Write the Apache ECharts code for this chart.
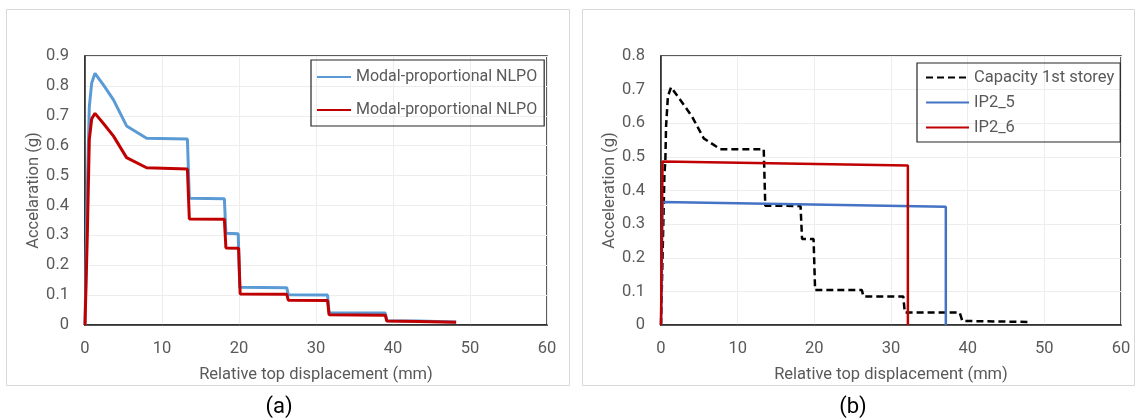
<!DOCTYPE html>
<html>
<head>
<meta charset="utf-8">
<script src="https://cdn.jsdelivr.net/npm/echarts@6/dist/echarts.min.js"></script>
<style>
html,body{margin:0;padding:0;background:#fff;}
#c{width:1138px;height:419px;}
</style>
</head>
<body>
<div id="c"></div>
<script>
// ---- Panel (a) data ----
const aBlueX = [0, 0.35, 0.56, 0.87, 1.3, 2.5, 3.7, 5.4, 8.0, 13.3, 13.55, 18.1, 18.3, 19.9, 20.1, 26.2, 26.4, 31.5, 31.7, 39.0, 39.2, 43.3, 43.5, 48.2];
const aBlueY = [0, 0.51, 0.73, 0.81, 0.842, 0.799, 0.753, 0.666, 0.625, 0.622, 0.424, 0.422, 0.307, 0.305, 0.126, 0.125, 0.101, 0.100, 0.041, 0.040, 0.014, 0.013, 0.010, 0.010];
const aRedX = [0, 0.3, 0.56, 0.87, 1.3, 2.5, 3.7, 5.4, 8.0, 13.3, 13.55, 18.1, 18.3, 19.95, 20.15, 26.2, 26.4, 31.5, 31.7, 39.0, 39.2, 43.3, 43.5, 48.2];
const aRedY = [0, 0.3, 0.62, 0.69, 0.708, 0.671, 0.632, 0.56, 0.526, 0.522, 0.355, 0.354, 0.258, 0.257, 0.104, 0.103, 0.083, 0.082, 0.034, 0.033, 0.013, 0.012, 0.009, 0.009];
const aNames = ['Modal-proportional NLPO', 'Modal-proportional NLPO '];

// ---- Panel (b) data ----
const capX = [0, 0.45, 0.57, 0.66, 0.9, 1.31, 2.5, 4.05, 5.57, 7.74, 13.4, 13.6, 18.2, 18.4, 19.9, 20.1, 26.2, 26.4, 31.6, 31.8, 38.96, 39.3, 48.2];
const capY = [0, 0.45, 0.49, 0.59, 0.68, 0.707, 0.67, 0.62, 0.555, 0.523, 0.523, 0.355, 0.354, 0.256, 0.256, 0.104, 0.104, 0.085, 0.085, 0.037, 0.037, 0.012, 0.009];
const ip25X = [0, 0.2, 37.15, 37.15];
const ip25Y = [0, 0.366, 0.352, 0];
const ip26X = [0, 0.2, 32.2, 32.2];
const ip26Y = [0, 0.486, 0.474, 0];
const bNames = ['Capacity 1st storey', 'IP2_5', 'IP2_6'];

// ---- Axis labels ----
const xTitle = 'Relative top displacement (mm)';
const yTitleA = 'Accelaration (g)';
const yTitleB = 'Acceleration (g)';
const panelLabels = ['(a)', '(b)'];

const zip = (xs, ys) => xs.map((x, i) => [x, ys[i]]);
const FONT = 'Roboto';
const TXT = '#595959';
const FS = 16.5;

const chart = echarts.init(document.getElementById('c'), null, {renderer: 'canvas'});

function xAxisCfg(gi) {
  return {
    type: 'value', gridIndex: gi, min: 0, max: 60, interval: 10,
    name: xTitle, nameLocation: 'middle', nameGap: 41,
    nameTextStyle: {color: TXT, fontSize: FS, fontFamily: FONT},
    axisLine: {show: true, lineStyle: {color: '#262626', width: 1.5}},
    axisTick: {show: false},
    axisLabel: {color: TXT, fontSize: FS, fontFamily: FONT, margin: 15},
    splitLine: {show: true, lineStyle: {color: '#ededed', width: 1}}
  };
}
function yAxisCfg(gi, max, name) {
  return {
    type: 'value', gridIndex: gi, min: 0, max: max, interval: 0.1,
    name: name, nameLocation: 'middle', nameGap: 42,
    nameTextStyle: {color: TXT, fontSize: FS, fontFamily: FONT},
    axisLine: {show: true, lineStyle: {color: '#262626', width: 1.5}},
    axisTick: {show: false},
    axisLabel: {color: TXT, fontSize: FS, fontFamily: FONT, margin: 16,
      formatter: v => (Math.round(v * 10) / 10).toString()},
    splitLine: {show: true, lineStyle: {color: '#ededed', width: 1}}
  };
}

const option = {
  backgroundColor: '#fff',
  animation: false,
  grid: [
    {left: 85, top: 56, width: 462, height: 269, show: true, borderColor: '#262626', borderWidth: 1.5, backgroundColor: 'transparent'},
    {left: 661, top: 56, width: 460, height: 269, show: true, borderColor: '#262626', borderWidth: 1.5, backgroundColor: 'transparent'}
  ],
  xAxis: [xAxisCfg(0), xAxisCfg(1)],
  yAxis: [yAxisCfg(0, 0.9, yTitleA), yAxisCfg(1, 0.8, yTitleB)],
  legend: [
    {
      data: aNames, left: 311, top: 60, orient: 'vertical',
      itemWidth: 34, itemHeight: 12, itemGap: 17,
      padding: [9, 3, 8, 5],
      borderColor: '#262626', borderWidth: 1.2,
      itemStyle: {opacity: 0},
      textStyle: {color: TXT, fontSize: 16, fontFamily: FONT},
      selectedMode: false
    },
    {
      data: bNames, left: 917, top: 63, orient: 'vertical',
      itemWidth: 43, itemHeight: 12, itemGap: 8,
      padding: [6, 6, 6, 8],
      borderColor: '#262626', borderWidth: 1.2,
      itemStyle: {opacity: 0},
      textStyle: {color: TXT, fontSize: FS, fontFamily: FONT},
      selectedMode: false
    }
  ],
  series: [
    {name: aNames[0], type: 'line', xAxisIndex: 0, yAxisIndex: 0, data: zip(aBlueX, aBlueY),
      symbol: 'none', lineStyle: {color: '#5B9BD5', width: 3}, itemStyle: {color: '#5B9BD5'}},
    {name: aNames[1], type: 'line', xAxisIndex: 0, yAxisIndex: 0, data: zip(aRedX, aRedY),
      symbol: 'none', lineStyle: {color: '#C00000', width: 3}, itemStyle: {color: '#C00000'}},
    {name: bNames[0], type: 'line', xAxisIndex: 1, yAxisIndex: 1, data: zip(capX, capY),
      symbol: 'none', lineStyle: {color: '#000000', width: 2.5, type: [7, 4]}, itemStyle: {color: '#000000'}},
    {name: bNames[1], type: 'line', xAxisIndex: 1, yAxisIndex: 1, data: zip(ip25X, ip25Y),
      symbol: 'none', lineStyle: {color: '#4472C4', width: 2.5}, itemStyle: {color: '#4472C4'}},
    {name: bNames[2], type: 'line', xAxisIndex: 1, yAxisIndex: 1, data: zip(ip26X, ip26Y),
      symbol: 'none', lineStyle: {color: '#C00000', width: 2.5}, itemStyle: {color: '#C00000'}}
  ],
  graphic: [
    {type: 'rect', z: -10, shape: {x: 6.5, y: 9.5, width: 563, height: 376}, style: {fill: 'none', stroke: '#d9d9d9', lineWidth: 1}},
    {type: 'rect', z: -10, shape: {x: 582.5, y: 9.5, width: 552, height: 376}, style: {fill: 'none', stroke: '#d9d9d9', lineWidth: 1}},
    {type: 'text', x: 279, y: 407, style: {text: panelLabels[0], fill: '#000', fontSize: 22, fontFamily: FONT, align: 'center', verticalAlign: 'middle'}},
    {type: 'text', x: 853, y: 407, style: {text: panelLabels[1], fill: '#000', fontSize: 22, fontFamily: FONT, align: 'center', verticalAlign: 'middle'}}
  ]
};
chart.setOption(option);
</script>
</body>
</html>
